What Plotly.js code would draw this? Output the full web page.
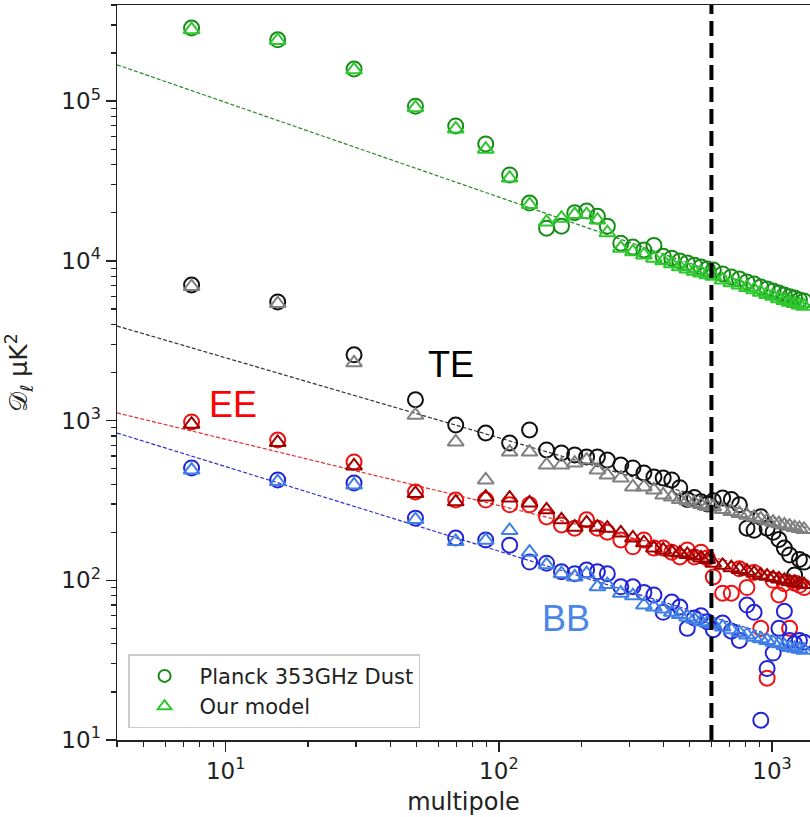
<!DOCTYPE html>
<html>
<head>
<meta charset="utf-8">
<script src="https://cdn.plot.ly/plotly-3.0.1.min.js"></script>
<style>html,body{margin:0;padding:0;background:#fff;}#chart{width:810px;height:817px;}</style>
</head>
<body>
<div id="chart"></div>
<script>
// multipole bin centres
const ell = [7.5, 15.5, 29.5, 49.5, 69.5, 89.5, 109.5, 129.5, 149.5, 169.5, 189.5, 209.5, 229.5, 249.5,
  279.5, 309.5, 339.5, 369.5, 399.5, 429.5, 459.5, 489.5, 519.5, 549.5, 579.5, 609.5,
  659.5, 709.5, 759.5, 809.5, 859.5, 909.5, 959.5, 1009.5, 1059.5, 1109.5, 1159.5, 1209.5, 1259.5, 1309.5];

// TT (green)
const ttPlanck = [2.87e5, 2.42e5, 1.59e5, 9.3e4, 7.0e4, 5.4e4, 3.45e4, 2.3e4, 1.6e4, 1.65e4, 2.0e4, 2.05e4, 1.9e4, 1.65e4,
  1.29e4, 1.22e4, 1.17e4, 1.25e4, 1.07e4, 1.04e4, 9.98e3, 9.7e3, 9.4e3, 9.16e3, 8.9e3, 8.77e3,
  8.28e3, 7.93e3, 7.7e3, 7.38e3, 7.17e3, 6.87e3, 6.67e3, 6.48e3, 6.3e3, 6.12e3, 5.95e3, 5.86e3, 5.69e3, 5.61e3];
const ttModel = [2.8e5, 2.4e5, 1.57e5, 9.1e4, 6.7e4, 5.0e4, 3.3e4, 2.25e4, 1.75e4, 1.85e4, 1.95e4, 1.95e4, 1.8e4, 1.5e4,
  1.2e4, 1.14e4, 1.09e4, 1.04e4, 1.0e4, 9.6e3, 9.2e3, 8.9e3, 8.6e3, 8.4e3, 8.2e3, 8.0e3,
  7.6e3, 7.3e3, 7.05e3, 6.8e3, 6.6e3, 6.35e3, 6.15e3, 6.0e3, 5.8e3, 5.65e3, 5.5e3, 5.4e3, 5.3e3, 5.2e3];

// TE (black / grey)
const tePlanck = [7.06e3, 5.53e3, 2.58e3, 1.35e3, 938, 836, 724, 874, 655, 627, 609, 592, 592, 566,
  527, 505, 470, 443, 437, 425, 380, 320, 330, 310, 300, 315,
  328, 320, 297, 212, 206, 250, 212, 200, 180, 159, 144, 108, 135, 130];
const teModel = [6.9e3, 5.4e3, 2.3e3, 1.08e3, 735, 425, 635, 635, 527, 527, 542, 566, 491, 456,
  437, 384, 384, 367, 342, 332, 320, 315, 305, 298, 290, 288,
  277, 270, 262, 255, 248, 242, 236, 231, 226, 222, 218, 214, 211, 208];

// EE (red / dark red)
const eePlanck = [980, 755, 551, 357, 318, 318, 297, 297, 249, 222, 212, 239, 212, 200,
  179, 162, 179, 159, 159, 150, 140, 155, 140, 150, 138, 105,
  83, 83, 118, 90, 112, 50, 24.4, 100, 81, 95, 50, 96, 93, 90];
const eeModel = [950, 730, 520, 350, 310, 332, 327, 305, 276, 239, 215, 229, 215, 212,
  198, 184, 172, 159, 155, 150, 148, 145, 142, 138, 135, 128,
  124, 120, 117, 114, 111, 108, 106, 104, 102, 100, 98, 97, 95, 94];

// BB (blue / light blue)
const bbPlanck = [505, 425, 407, 245, 184, 179, 166, 130, 128, 113, 110, 116, 113, 110,
  91, 91, 84, 81, 63, 73, 68, 50, 58, 60, 55, 49,
  54, 48, 42, 70, 63, 13.3, 28, 35, 50, 64, 42, 40, 42, 41];
const bbModel = [490, 415, 395, 240, 175, 178, 205, 150, 125, 110, 105, 110, 91, 94,
  83, 80, 70, 68, 66, 63, 61, 59, 57, 55, 54, 53,
  51, 49, 47, 45.5, 44, 43, 42, 41, 40, 39, 38, 37.5, 37, 36.5];

// power-law fit lines (end points)
const fitEll = [4, 1377];
const ttFit = [1.69e5, 5.3e3];
const teFit = [3.91e3, 210];
const eeFit = [1117, 99];
const bbFit = [836, 38];

// vertical cut at l = 600
const cutEll = [600, 600];
const yLogRange = [1, 5.602];

const labels = ['TE', 'EE', 'BB'];
const labelEll = [67, 10.6, 176];
const labelD = [2230, 1253, 58];
const labelColors = ['#000000', '#ff0000', '#4a86e8'];

const xTickVals = [10, 100, 1000];
const xTickText = ['10<sup>1</sup>', '10<sup>2</sup>', '10<sup>3</sup>'];
const yTickVals = [10, 100, 1000, 10000, 100000];
const yTickText = ['10<sup>1</sup>', '10<sup>2</sup>', '10<sup>3</sup>', '10<sup>4</sup>', '10<sup>5</sup>'];

function minorTicks(lo, hi) {
  const v = [];
  for (let k = lo; k <= hi; k++) for (let m = 2; m <= 9; m++) v.push(m * Math.pow(10, k));
  return v;
}

function fit(y, color) {
  return {x: fitEll, y: y, mode: 'lines', showlegend: false, hoverinfo: 'skip',
    line: {color: color, width: 1.2, dash: '4px,2px'}};
}
function circ(y, color, name, show) {
  return {x: ell, y: y, mode: 'markers', name: name, showlegend: !!show,
    marker: {symbol: 'circle-open', size: 15, color: color, line: {width: 2, color: color}}};
}
function tri(y, color, name, show) {
  return {x: ell, y: y, mode: 'markers', name: name, showlegend: !!show,
    marker: {symbol: 'triangle-up-open', size: 14, color: color, line: {width: 2, color: color}}};
}

const traces = [
  fit(ttFit, '#2a8a2a'), fit(teFit, '#333333'), fit(eeFit, '#e03030'), fit(bbFit, '#3030d0'),
  circ(ttPlanck, '#178c17', 'Planck 353GHz Dust', true),
  tri(ttModel, '#2ec82e', 'Our model', true),
  circ(tePlanck, '#111111', 'TE Planck'),
  tri(teModel, '#808080', 'TE model'),
  circ(eePlanck, '#f01010', 'EE Planck'),
  tri(eeModel, '#a00000', 'EE model'),
  circ(bbPlanck, '#2323d8', 'BB Planck'),
  tri(bbModel, '#3f7fe6', 'BB model'),
  {x: cutEll, y: yLogRange.map(v => Math.pow(10, v)), mode: 'lines', showlegend: false, hoverinfo: 'skip',
    line: {color: '#000000', width: 4, dash: '15px,7px'}}
];

const font = 'DejaVu Sans, sans-serif';
const layout = {
  width: 810, height: 817,
  margin: {l: 117, r: 0, t: 5, b: 77},
  paper_bgcolor: '#ffffff', plot_bgcolor: '#ffffff',
  font: {family: font, color: '#222'},
  showlegend: true,
  legend: {x: 0.016, y: 0.016, xanchor: 'left', yanchor: 'bottom',
    bgcolor: 'rgba(255,255,255,0.9)', bordercolor: '#cccccc', borderwidth: 1.5,
    font: {family: font, size: 21, color: '#222'}, itemsizing: 'constant', itemwidth: 60, tracegroupgap: 4},
  xaxis: {type: 'log', range: [Math.log10(4.0), Math.log10(1377)],
    tickmode: 'array', tickvals: xTickVals, ticktext: xTickText,
    ticks: 'outside', ticklen: 10, tickwidth: 1.5, tickcolor: '#222',
    tickfont: {family: font, size: 23, color: '#222'},
    showline: true, linecolor: '#222', linewidth: 1.5, mirror: true,
    showgrid: false, zeroline: false,
    minor: {tickmode: 'array', tickvals: minorTicks(0, 3), ticks: 'outside', ticklen: 5, tickwidth: 1.2, tickcolor: '#222', showgrid: false},
    title: {text: 'multipole', font: {family: font, size: 24, color: '#222'}, standoff: 10}},
  yaxis: {type: 'log', range: yLogRange,
    tickmode: 'array', tickvals: yTickVals, ticktext: yTickText,
    ticks: 'outside', ticklen: 10, tickwidth: 1.5, tickcolor: '#222',
    tickfont: {family: font, size: 23, color: '#222'},
    showline: true, linecolor: '#222', linewidth: 1.5, mirror: false,
    showgrid: false, zeroline: false,
    minor: {tickmode: 'array', tickvals: minorTicks(1, 5), ticks: 'outside', ticklen: 5, tickwidth: 1.2, tickcolor: '#222', showgrid: false},
    title: {text: '𝒟<sub>ℓ</sub> μK<sup>2</sup>', font: {family: font, size: 25, color: '#222'}, standoff: 26}},
  annotations: labels.map((t, i) => ({text: t, x: Math.log10(labelEll[i]), y: Math.log10(labelD[i]),
    xref: 'x', yref: 'y', showarrow: false, xanchor: 'center', yanchor: 'middle',
    font: {family: 'Liberation Sans, Arial, sans-serif', size: 36, color: labelColors[i]}}))
};

Plotly.newPlot('chart', traces, layout, {staticPlot: true, displayModeBar: false});
</script>
</body>
</html>
